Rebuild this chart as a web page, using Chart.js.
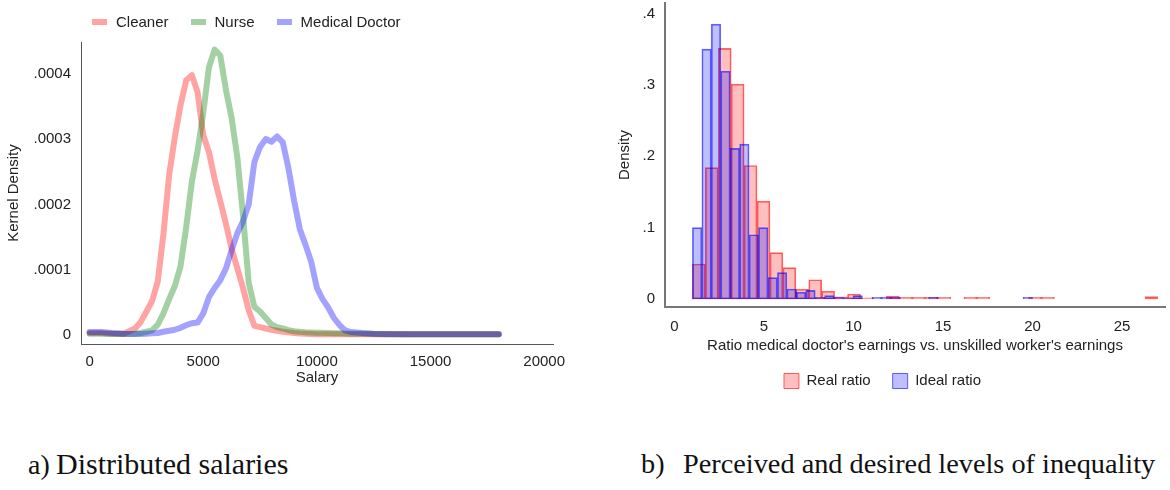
<!DOCTYPE html>
<html>
<head>
<meta charset="utf-8">
<script src="https://cdn.jsdelivr.net/npm/chart.js@4.4.0/dist/chart.umd.min.js"></script>
<style>
  html, body { margin: 0; padding: 0; background: #fff; }
  body { width: 1170px; height: 490px; position: relative; overflow: hidden; font-family: "Liberation Sans", Arial, sans-serif; }
  #salaryChart { position: absolute; left: 0; top: 0; }
  #ratioChart { position: absolute; left: 600px; top: -19px; }
  #salaryLegend { position: absolute; left: 92px; top: 13px; display: flex; align-items: center; font-size: 15px; color: #222; line-height: 18px; }
  .item { display: flex; align-items: center; margin-right: 22px; }
  .swatch { width: 15px; height: 6px; margin-right: 9px; }
  .caption { position: absolute; top: 447px; font-family: "Liberation Serif", serif; color: #111; white-space: nowrap; }
</style>
</head>
<body>
<canvas id="salaryChart" width="580" height="400"></canvas>
<div id="salaryLegend"></div>
<canvas id="ratioChart" width="570" height="439"></canvas>
<span class="caption" style="left:28px; font-size:28px; top:449px">a)</span>
<span class="caption" style="left:56px; font-size:30px">Distributed salaries</span>
<span class="caption" style="left:641px; font-size:28.3px; top:448px">b)</span>
<span class="caption" style="left:683px; font-size:28.3px; top:448px">Perceived and desired levels of inequality</span>

<script>
// Panel a) kernel densities
const salaryGrid = [0, 500, 1000, 1500, 2000, 2250, 2500, 2750, 3000, 3250, 3500, 3750, 4000, 4250, 4500, 4750,
  5000, 5250, 5500, 5750, 6000, 6250, 6500, 6750, 7000, 7250, 7500, 7750, 8000, 8250, 8500, 8750,
  9000, 9250, 9500, 9750, 10000, 10250, 10500, 10750, 11000, 11250, 11500, 12000, 12500, 13000,
  14000, 15000, 16000, 17000, 18000];
const cleanerDensity = [3.0e-6, 3.0e-6, 2.0e-6, 2.0e-6, 1.0e-5, 2.0e-5, 3.6e-5, 5.2e-5, 8.2e-5, 1.55e-4, 2.45e-4, 3.03e-4, 3.52e-4, 3.90e-4, 3.98e-4, 3.72e-4,
  3.06e-4, 2.80e-4, 2.39e-4, 2.05e-4, 1.70e-4, 1.32e-4, 1.02e-4, 7.2e-5, 3.8e-5, 1.4e-5, 1.2e-5, 1.0e-5, 8.0e-6, 6.5e-6, 5.0e-6, 4.0e-6,
  3.0e-6, 2.2e-6, 1.8e-6, 1.5e-6, 1.3e-6, 1.2e-6, 1.2e-6, 1.2e-6, 1.2e-6, 1.2e-6, 1.2e-6, 1.1e-6, 1.0e-6, 1.0e-6,
  1.0e-6, 1.0e-6, 1.0e-6, 1.0e-6, 1.0e-6];
const nurseDensity = [2.0e-6, 2.0e-6, 1.5e-6, 1.5e-6, 2.0e-6, 3.0e-6, 5.0e-6, 7.0e-6, 1.6e-5, 3.3e-5, 5.5e-5, 7.5e-5, 1.05e-4, 1.65e-4, 2.35e-4, 2.82e-4,
  3.40e-4, 4.10e-4, 4.37e-4, 4.28e-4, 3.75e-4, 3.32e-4, 2.72e-4, 1.83e-4, 8.0e-5, 4.3e-5, 3.6e-5, 2.6e-5, 1.6e-5, 1.2e-5, 1.0e-5, 7.5e-6,
  5.8e-6, 4.8e-6, 4.2e-6, 3.8e-6, 3.5e-6, 3.3e-6, 3.0e-6, 2.8e-6, 2.5e-6, 2.3e-6, 2.0e-6, 1.8e-6, 1.5e-6, 1.2e-6,
  1.0e-6, 1.0e-6, 1.0e-6, 1.0e-6, 1.0e-6];
const doctorDensity = [4.5e-6, 4.5e-6, 3.0e-6, 2.0e-6, 1.5e-6, 1.5e-6, 2.0e-6, 2.5e-6, 3.0e-6, 5.0e-6, 6.5e-6, 8.0e-6, 1.1e-5, 1.5e-5, 1.8e-5, 1.9e-5,
  3.3e-5, 5.8e-5, 7.2e-5, 8.4e-5, 1.02e-4, 1.30e-4, 1.56e-4, 1.74e-4, 2.00e-4, 2.65e-4, 2.88e-4, 3.00e-4, 2.96e-4, 3.04e-4, 2.95e-4, 2.55e-4,
  2.05e-4, 1.62e-4, 1.38e-4, 1.12e-4, 7.2e-5, 5.5e-5, 4.2e-5, 2.6e-5, 1.5e-5, 7.0e-6, 4.5e-6, 3.0e-6, 2.0e-6, 1.5e-6,
  1.2e-6, 1.2e-6, 1.2e-6, 1.2e-6, 1.2e-6];
const salaryTicks = [0, 5000, 10000, 15000, 20000];
const densityTicks = [0, 0.0001, 0.0002, 0.0003, 0.0004];
const densityTickLabels = ['0', '.0001', '.0002', '.0003', '.0004'];

// Panel b) histograms (bin centres and heights)
const realBins = [1.361, 2.083, 2.806, 3.528, 4.250, 4.972, 5.694, 6.417, 7.139, 7.861, 8.583, 9.306,
  10.028, 10.750, 11.472, 12.194, 12.917, 13.639, 14.361, 15.083, 15.806, 16.528, 17.250, 17.972,
  18.694, 19.417, 20.139, 20.861, 21.583, 22.306, 23.028, 23.750, 24.472, 25.194, 25.917, 26.639];
const realDensity = [0.049, 0.184, 0.351, 0.301, 0.187, 0.137, 0.065, 0.044, 0.0136, 0.027, 0.011, 0.003,
  0.007, 0.0015, 0, 0.004, 0.0025, 0.0025, 0.0025, 0.0025, 0, 0.0025, 0.0025, 0,
  0, 0, 0.0025, 0.0025, 0, 0, 0, 0, 0, 0, 0, 0.0035];
const idealBins = [1.264, 1.792, 2.319, 2.847, 3.375, 3.903, 4.431, 4.958, 5.486, 6.014, 6.542, 7.069,
  7.597, 8.125, 8.653, 9.181, 9.708, 10.236, 10.764, 11.292, 11.819, 12.347, 12.875, 13.403,
  13.931, 14.458, 14.986, 15.514, 16.042, 16.569, 17.097, 17.625, 18.153, 18.681, 19.208, 19.736];
const idealDensity = [0.100, 0.350, 0.385, 0.319, 0.211, 0.217, 0.090, 0.100, 0.030, 0.037, 0.014, 0.0094,
  0.012, 0.0025, 0.0047, 0.0025, 0.0015, 0.0047, 0, 0.0025, 0.0025, 0.0025, 0, 0,
  0, 0.0025, 0, 0, 0, 0, 0, 0, 0, 0, 0, 0.0025];
const ratioTicks = [0, 5, 10, 15, 20, 25];
const shareTicks = [0, 0.1, 0.2, 0.3, 0.4];
const shareTickLabels = ['0', '.1', '.2', '.3', '.4'];

const tickFont = { family: 'Liberation Sans', size: 15 };
const textColor = '#222';

function toPoints(xs, ys) {
    return xs.map((x, i) => ({ x: x, y: ys[i] }));
}

// Panel a
const salaryChart = new Chart(document.getElementById('salaryChart'), {
    type: 'line',
    data: {
        datasets: [
            { label: 'Cleaner', data: toPoints(salaryGrid, cleanerDensity), borderColor: 'rgba(255,0,0,0.36)', order: 3 },
            { label: 'Nurse', data: toPoints(salaryGrid, nurseDensity), borderColor: 'rgba(0,128,0,0.36)', order: 2 },
            { label: 'Medical Doctor', data: toPoints(salaryGrid, doctorDensity), borderColor: 'rgba(0,0,255,0.36)', order: 1 }
        ]
    },
    options: {
        responsive: false,
        animation: false,
        layout: { padding: { top: 42, right: 27, bottom: 12, left: 0 } },
        elements: {
            line: { borderWidth: 6, tension: 0, borderJoinStyle: 'round', borderCapStyle: 'round' },
            point: { radius: 0 }
        },
        plugins: { legend: { display: false }, tooltip: { enabled: false } },
        scales: {
            x: {
                type: 'linear', min: -378, max: 20387,
                grid: { display: false, drawTicks: false },
                border: { display: true, color: '#555', width: 1 },
                afterBuildTicks: s => { s.ticks = salaryTicks.map(v => ({ value: v })); },
                afterFit: s => { s.height = 44; },
                ticks: { font: tickFont, color: textColor, padding: 9, maxRotation: 0, callback: v => String(v) },
                title: { display: true, text: 'Salary', font: tickFont, color: textColor, padding: { top: 0, bottom: 1 } }
            },
            y: {
                type: 'linear', min: -0.0000138, max: 0.0004487,
                grid: { display: false, drawTicks: false },
                border: { display: true, color: '#555', width: 1 },
                afterBuildTicks: s => { s.ticks = densityTicks.map(v => ({ value: v })); },
                afterFit: s => { s.width = 81; },
                ticks: { font: tickFont, color: textColor, padding: 10, callback: v => densityTickLabels[densityTicks.indexOf(v)] },
                title: { display: true, text: 'Kernel Density', font: tickFont, color: textColor, padding: { top: 5, bottom: 0 } }
            }
        }
    }
});

// HTML legend built from the chart's datasets
const legendBox = document.getElementById('salaryLegend');
salaryChart.data.datasets.forEach(ds => {
    const item = document.createElement('div');
    item.className = 'item';
    const sw = document.createElement('span');
    sw.className = 'swatch';
    sw.style.background = ds.borderColor;
    const txt = document.createElement('span');
    txt.textContent = ds.label;
    item.appendChild(sw);
    item.appendChild(txt);
    legendBox.appendChild(item);
});

// Panel b: each histogram has its own bins, so each gets its own x scale
const barStyle = { barPercentage: 1, categoryPercentage: 1, borderWidth: 1, borderSkipped: false, grouped: false };
new Chart(document.getElementById('ratioChart'), {
    type: 'bar',
    data: {
        datasets: [
            Object.assign({ label: 'Real ratio', data: toPoints(realBins, realDensity), xAxisID: 'x',
                backgroundColor: 'rgba(255,0,0,0.25)', borderColor: 'rgba(255,0,0,0.6)', order: 2 }, barStyle),
            Object.assign({ label: 'Ideal ratio', data: toPoints(idealBins, idealDensity), xAxisID: 'x2',
                backgroundColor: 'rgba(0,0,255,0.25)', borderColor: 'rgba(0,0,255,0.6)', order: 1 }, barStyle)
        ]
    },
    options: {
        responsive: false,
        animation: false,
        layout: { padding: { top: 22, right: 5, bottom: 21.5, left: 0 } },
        plugins: {
            tooltip: { enabled: false },
            legend: {
                position: 'bottom',
                labels: {
                    font: tickFont, color: textColor, boxWidth: 15, boxHeight: 15, padding: 22,
                    sort: (a, b) => a.datasetIndex - b.datasetIndex
                }
            }
        },
        scales: {
            x: {
                type: 'linear', min: -0.53, max: 27.4, offset: false,
                grid: { display: false, drawTicks: false },
                border: { display: true, color: '#777', width: 2 },
                afterBuildTicks: s => { s.ticks = ratioTicks.map(v => ({ value: v })); },
                afterFit: s => { s.height = 44.5; },
                ticks: { font: tickFont, color: textColor, padding: 11, maxRotation: 0 },
                title: { display: true, text: "Ratio medical doctor's earnings vs. unskilled worker's earnings", font: tickFont, color: textColor, padding: { top: 0, bottom: -3.5 } }
            },
            x2: {
                type: 'linear', min: -0.53, max: 27.4, offset: false, display: false,
                afterBuildTicks: s => { s.ticks = ratioTicks.map(v => ({ value: v })); }
            },
            y: {
                type: 'linear', min: -0.0112, max: 0.4146,
                grid: { display: false, drawTicks: false },
                border: { display: true, color: '#777', width: 2 },
                afterBuildTicks: s => { s.ticks = shareTicks.map(v => ({ value: v })); },
                afterFit: s => { s.width = 65; },
                ticks: { font: tickFont, color: textColor, padding: 10, callback: v => shareTickLabels[shareTicks.indexOf(v)] },
                title: { display: true, text: 'Density', font: tickFont, color: textColor, padding: { top: 16, bottom: 0 } }
            }
        }
    }
});
</script>
</body>
</html>
